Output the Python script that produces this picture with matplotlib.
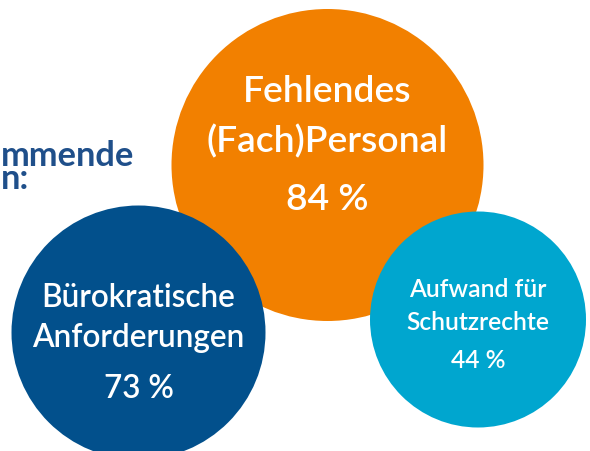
import matplotlib
matplotlib.use("Agg")
from matplotlib import pyplot as plt
from matplotlib.patches import Circle

# hemmende Faktoren (Anteil der Nennungen)
categories = ["Fehlendes\n(Fach)Personal", "Bürokratische\nAnforderungen", "Aufwand für\nSchutzrechte"]
shares = [84, 73, 44]
heading_lines = ["mmende", "n:"]

# layout in pixel coordinates (x, y from top, radius)
centers = [(327.5, 166), (138.5, 333.5), (478, 320.5)]
radii = [156, 127, 108]
colors = ["#f28000", "#02508c", "#00a6cf"]
# target width of the widest line and text baselines per circle
text_widths = [241, 213, 143]
baselines = [(102, 152, 210), (307, 347, 398), (297, 330, 368)]

FONT = "Lato"

fig = plt.figure(figsize=(5.9, 4.52), dpi=100)
ax = fig.add_axes([0, 0, 1, 1])
ax.set_xlim(0, 590)
ax.set_ylim(452, 0)
ax.set_aspect("equal")
ax.axis("off")
renderer = fig.canvas.get_renderer()


def line_width(line, weight, size=20):
    probe = fig.text(0, 0, line, fontsize=size, family=FONT, fontweight=weight)
    w = probe.get_window_extent(renderer).width
    probe.remove()
    return w


head_size = 20 * 133 / line_width(heading_lines[0], "bold")
# one text block; baseline of the last line sits at y=189
head_spacing = 24 / (head_size * 100 / 72) / 1.2 * 24 / 22
ax.text(0.5, 189, "\n".join(heading_lines), fontsize=head_size, fontweight="bold",
        color="#1f4f8a", family=FONT, ha="left", va="baseline",
        linespacing=head_spacing)

for idx, (name, share) in enumerate(zip(categories, shares)):
    cx, cy = centers[idx]
    ax.add_patch(Circle((cx, cy), radii[idx], facecolor=colors[idx],
                        edgecolor="none", zorder=idx + 1))
    lines = name.split("\n") + [f"{share} %"]
    widest = max(line_width(line, "semibold") for line in lines)
    size = 20 * text_widths[idx] / widest
    for line, y in zip(lines, baselines[idx]):
        ax.text(cx, y, line, fontsize=size, fontweight="semibold", color="white",
                family=FONT, ha="center", va="baseline", zorder=10)

fig.savefig("out.png", dpi=100)
